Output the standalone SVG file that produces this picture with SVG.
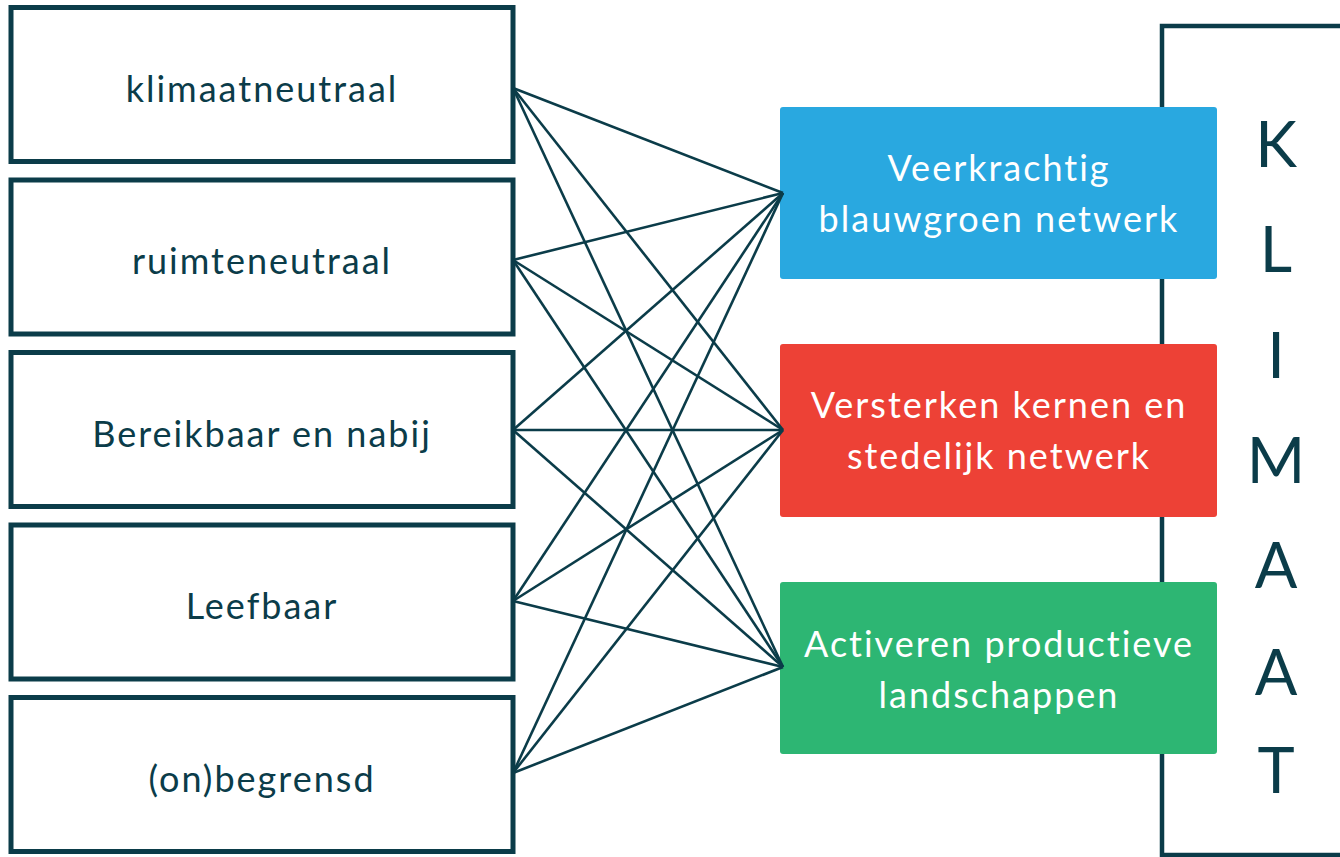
<svg xmlns="http://www.w3.org/2000/svg" width="1340" height="857" viewBox="0 0 1340 857">
<style>
.lbox{fill:#fff;stroke:#0b3c49;stroke-width:5}
.ltxt{font-family:Lato,"Open Sans",sans-serif;font-size:36px;letter-spacing:2px;fill:#0b3c49;text-anchor:middle}
.rtxt{font-family:Lato,"Open Sans",sans-serif;font-size:36px;letter-spacing:2px;fill:#fff;text-anchor:middle}
.ktxt{font-family:Lato,"Open Sans",sans-serif;font-size:63px;fill:#0b3c49;text-anchor:middle}
#connectors line{stroke:#0b3c49;stroke-width:2.6}
</style>
<rect width="1340" height="857" fill="#fff"/>
<g id="klimaat">
<rect x="1162" y="26" width="200" height="829" fill="none" stroke="#0b3c49" stroke-width="4.5"/>
<text class="ktxt" x="1276" y="167">K</text>
<text class="ktxt" x="1276" y="272">L</text>
<text class="ktxt" x="1276" y="378">I</text>
<text class="ktxt" x="1276" y="483">M</text>
<text class="ktxt" x="1276" y="588">A</text>
<text class="ktxt" x="1276" y="695">A</text>
<text class="ktxt" x="1276" y="793">T</text>
</g>
<g id="n1"><rect class="lbox" x="11" y="7.5" width="502" height="154"/><text class="ltxt" x="262" y="102">klimaatneutraal</text></g>
<g id="n2"><rect class="lbox" x="11" y="180" width="502" height="154"/><text class="ltxt" x="262" y="274">ruimteneutraal</text></g>
<g id="n3"><rect class="lbox" x="11" y="352.5" width="502" height="154"/><text class="ltxt" x="262" y="447">Bereikbaar en nabij</text></g>
<g id="n4"><rect class="lbox" x="11" y="525" width="502" height="154"/><text class="ltxt" x="262" y="619">Leefbaar</text></g>
<g id="n5"><rect class="lbox" x="11" y="697.5" width="502" height="154"/><text class="ltxt" x="262" y="792">(on)begrensd</text></g>
<g id="r1"><rect x="780" y="107" width="437" height="172" rx="3" fill="#29a8e0"/><text class="rtxt" x="999" y="181">Veerkrachtig</text><text class="rtxt" x="999" y="232">blauwgroen netwerk</text></g>
<g id="r2"><rect x="780" y="344" width="437" height="173" rx="3" fill="#ed4136"/><text class="rtxt" x="999" y="418">Versterken kernen en</text><text class="rtxt" x="999" y="469">stedelijk netwerk</text></g>
<g id="r3"><rect x="780" y="582" width="437" height="172" rx="3" fill="#2db673"/><text class="rtxt" x="999" y="657">Activeren productieve</text><text class="rtxt" x="999" y="708">landschappen</text></g>
<g id="connectors">
<line x1="513" y1="88" x2="783" y2="193"/><line x1="513" y1="88" x2="783" y2="430"/><line x1="513" y1="88" x2="783" y2="667"/>
<line x1="513" y1="260" x2="783" y2="193"/><line x1="513" y1="260" x2="783" y2="430"/><line x1="513" y1="260" x2="783" y2="667"/>
<line x1="513" y1="430" x2="783" y2="193"/><line x1="513" y1="430" x2="783" y2="430"/><line x1="513" y1="430" x2="783" y2="667"/>
<line x1="513" y1="601" x2="783" y2="193"/><line x1="513" y1="601" x2="783" y2="430"/><line x1="513" y1="601" x2="783" y2="667"/>
<line x1="513" y1="773" x2="783" y2="193"/><line x1="513" y1="773" x2="783" y2="430"/><line x1="513" y1="773" x2="783" y2="667"/>
</g>
</svg>
